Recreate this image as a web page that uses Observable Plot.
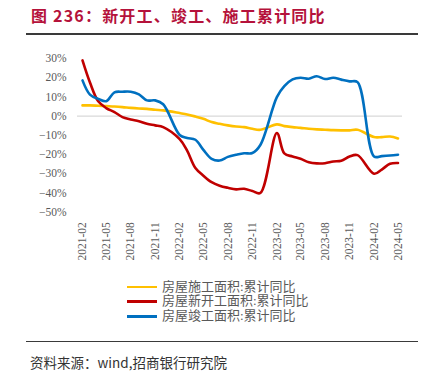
<!DOCTYPE html>
<html><head><meta charset="utf-8">
<script src="https://cdn.jsdelivr.net/npm/d3@7"></script>
<script src="https://cdn.jsdelivr.net/npm/@observablehq/plot@0.6"></script>
<style>
body{margin:0;background:#fff;}
#wrap{position:relative;width:431px;height:376px;overflow:hidden;font-family:"Noto Sans CJK SC",sans-serif;}
#title{position:absolute;left:31px;top:4px;font-size:16px;line-height:22px;font-weight:bold;color:#b5123b;letter-spacing:1.2px;white-space:nowrap;}
.rule{position:absolute;left:26px;width:392px;background:#3a3a3a;}
#chart{position:absolute;left:0;top:0;}
#legend{position:absolute;left:127px;top:279.5px;font-size:13px;color:#595959;font-family:"Liberation Serif","Noto Sans CJK SC",serif;}
.row{display:flex;align-items:center;height:14.7px;line-height:14.7px;white-space:nowrap;}
.sw{width:30px;height:2.6px;margin-right:5px;}
#source{position:absolute;left:30px;top:353px;font-size:13.5px;line-height:18px;color:#333;white-space:nowrap;}
</style></head>
<body><div id="wrap">
<div id="title">图 236：新开工、竣工、施工累计同比</div>
<div class="rule" style="top:33px;height:1.5px"></div>
<div id="chart"></div>
<div id="legend"></div>
<div class="rule" style="top:341px;height:1px"></div>
<div id="source">资料来源：wind,招商银行研究院</div>
</div>
<script>
const months = ["2021-02","2021-03","2021-04","2021-05","2021-06","2021-07","2021-08","2021-09","2021-10","2021-11","2021-12",
"2022-02","2022-03","2022-04","2022-05","2022-06","2022-07","2022-08","2022-09","2022-10","2022-11","2022-12",
"2023-02","2023-03","2023-04","2023-05","2023-06","2023-07","2023-08","2023-09","2023-10","2023-11","2023-12",
"2024-02","2024-03","2024-04","2024-05"];
const seriesNames = ["房屋施工面积:累计同比","房屋新开工面积:累计同比","房屋竣工面积:累计同比"];
const seriesColors = ["#FFC000","#C00000","#0070C0"];
const construction = [5.6,5.6,5.4,5.2,5.0,4.7,4.3,4.0,3.8,3.3,3.0,
 1.6,0.9,-0.2,-1.4,-3.1,-4.0,-4.8,-5.4,-5.7,-6.6,-7.1,
 -4.3,-5.2,-5.7,-6.1,-6.6,-6.9,-7.1,-7.3,-7.4,-7.4,-7.1,
 -10.9,-10.9,-10.6,-11.6];
const newStarts = [29.0,17.5,7.7,4.2,2.1,-0.5,-1.7,-2.6,-4.0,-4.8,-5.7,
 -12.0,-18.0,-27.0,-31.0,-34.4,-36.2,-37.3,-38.1,-37.8,-39.0,-40.0,
 -8.8,-19.4,-21.0,-22.2,-24.0,-24.6,-24.5,-23.6,-23.2,-21.0,-20.3,
 -30.0,-27.8,-24.8,-24.4];
const completion = [18.6,11.2,9.0,7.8,12.4,12.7,12.7,11.3,8.2,8.2,6.2,
 -9.8,-11.4,-12.3,-17.6,-22.2,-23.1,-21.2,-20.1,-19.3,-19.2,-15.0,
 9.9,15.6,19.1,20.0,19.5,20.8,19.3,20.0,19.0,18.1,17.7,
 -21.0,-20.8,-20.5,-20.1];
const xTickLabels = ["2021-02","2021-05","2021-08","2021-11","2022-02","2022-05","2022-08","2022-11","2023-02","2023-05","2023-08","2023-11","2024-02","2024-05"];
const yTicks = [30,20,10,0,-10,-20,-30,-40,-50];

const parse = d3.utcParse("%Y-%m");
const fmt = d3.utcFormat("%Y-%m");
const values = [construction, newStarts, completion];
const rows = [];
values.forEach((arr, s) => arr.forEach((v, i) => rows.push({date: parse(months[i]), v, s: seriesNames[s]})));

const chart = Plot.plot({
  width: 431, height: 376,
  marginLeft: 77, marginRight: 29, marginTop: 58, marginBottom: 164.3,
  style: {fontFamily: "'Liberation Serif', serif", fontSize: "11.5px", color: "#595959", background: "transparent"},
  x: {type: "utc", domain: [parse("2021-02"), parse("2024-05")], insetLeft: 5, insetRight: 4.5},
  y: {domain: [-50, 30]},
  marks: [
    Plot.ruleY([0], {stroke: "#d9d9d9", strokeWidth: 1.3}),
    Plot.axisY(yTicks, {tickSize: 0, tickPadding: 11, label: null, tickFormat: d => (d < 0 ? "−" : "") + Math.abs(d) + "%"}),
    Plot.axisX(xTickLabels.map(parse), {tickRotate: -90, tickSize: 0, tickPadding: 10, label: null, tickFormat: fmt}),
    ...seriesNames.map((name, s) => Plot.line(rows.filter(r => r.s === name), {
      x: "date", y: "v", stroke: seriesColors[s], strokeWidth: 2.6, curve: "catmull-rom"
    }))
  ]
});
document.getElementById("chart").appendChild(chart);

const legend = document.getElementById("legend");
seriesNames.forEach((name, s) => {
  const row = document.createElement("div");
  row.className = "row";
  const sw = document.createElement("div");
  sw.className = "sw";
  sw.style.background = seriesColors[s];
  const t = document.createElement("span");
  t.textContent = name;
  row.appendChild(sw); row.appendChild(t);
  legend.appendChild(row);
});
</script>
</body></html>
